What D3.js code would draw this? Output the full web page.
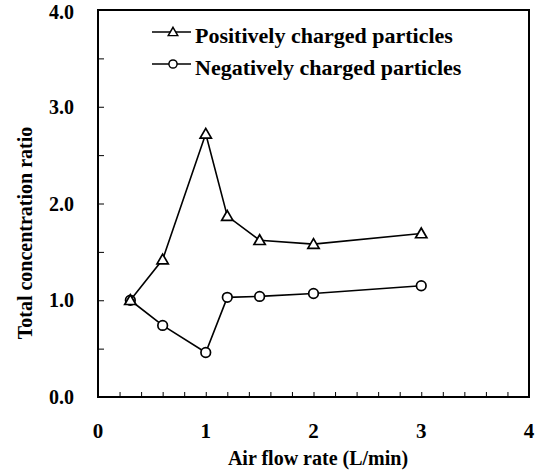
<html>
<head>
<script src="https://cdn.jsdelivr.net/npm/d3@7"></script>
<style>
  body { margin: 0; background: white; }
  text { font-family: "Liberation Serif", "Times New Roman", serif; font-weight: bold; fill: #000; }
</style>
</head>
<body>
<svg id="chart" width="536" height="472"></svg>
<script>
    let flowRate = [0.3, 0.6, 1.0, 1.2, 1.5, 2.0, 3.0]
    let positive = [1.0, 1.42, 2.72, 1.87, 1.62, 1.58, 1.69]
    let negative = [1.0, 0.74, 0.46, 1.03, 1.04, 1.07, 1.15]
    let xTickLabels = [0, 1, 2, 3, 4]
    let yTickLabels = [0, 1, 2, 3, 4]
    let seriesNames = ["Positively charged particles", "Negatively charged particles"]

    let svg = d3.select("#chart")
    let plotLeft = 98, plotRight = 529, plotTop = 10, plotBottom = 397

    let x = d3.scaleLinear().domain([0, 4]).range([plotLeft, plotRight])
    let y = d3.scaleLinear().domain([0, 4]).range([plotBottom, plotTop])

    // inward ticks
    let xAxis = d3.axisBottom(x).tickValues(d3.range(0, 4.01, 0.2)).tickSize(-5).tickFormat("")
    let yAxis = d3.axisLeft(y).tickValues(d3.range(0, 4.01, 0.5)).tickSize(-6).tickFormat("")

    svg.append("g").attr("transform", `translate(0,${plotBottom})`).call(xAxis)
        .call(g => g.select(".domain").remove())
        .selectAll("line").attr("stroke", "#000").attr("stroke-width", 1)
    svg.append("g").attr("transform", `translate(${plotLeft},0)`).call(yAxis)
        .call(g => g.select(".domain").remove())
        .selectAll("line").attr("stroke", "#000").attr("stroke-width", 1)

    svg.append("rect")
        .attr("x", plotLeft).attr("y", plotTop)
        .attr("width", plotRight - plotLeft).attr("height", plotBottom - plotTop)
        .attr("fill", "none").attr("stroke", "#000").attr("stroke-width", 2)

    svg.selectAll(".xlab").data(xTickLabels).enter().append("text")
        .attr("x", d => x(d)).attr("y", 438)
        .attr("text-anchor", "middle").attr("font-size", 21)
        .text(d => d)

    svg.selectAll(".ylab").data(yTickLabels).enter().append("text")
        .attr("x", 74).attr("y", d => Math.max(y(d) + 7, 19))
        .attr("text-anchor", "end").attr("font-size", 20)
        .text(d => d.toFixed(1))

    svg.append("text").attr("x", 318).attr("y", 465)
        .attr("text-anchor", "middle").attr("font-size", 20)
        .text("Air flow rate (L/min)")

    svg.append("text").attr("transform", "translate(32,233) rotate(-90)")
        .attr("text-anchor", "middle").attr("font-size", 20)
        .text("Total concentration ratio")

    let line = d3.line().x(d => x(d[0])).y(d => y(d[1]))
    let posData = d3.zip(flowRate, positive)
    let negData = d3.zip(flowRate, negative)

    let tri = d3.symbol().type(d3.symbolTriangle).size(55)

    function drawSeries(data, marker) {
        svg.append("path").datum(data).attr("d", line)
            .attr("fill", "none").attr("stroke", "#000").attr("stroke-width", 1.6)
        let g = svg.selectAll(null).data(data).enter().append("g")
            .attr("transform", d => `translate(${x(d[0])},${y(d[1])})`)
        marker(g)
    }

    let drawTri = g => g.append("path").attr("d", tri).attr("transform", "translate(0,1)")
        .attr("fill", "white").attr("stroke", "#000").attr("stroke-width", 1.7)
    let drawCirc = g => g.append("circle").attr("r", 4.8)
        .attr("fill", "white").attr("stroke", "#000").attr("stroke-width", 1.7)

    drawSeries(negData, drawCirc)
    drawSeries(posData, drawTri)

    // legend
    let legend = svg.append("g")
    let legendRows = [{ name: seriesNames[0], y: 32, marker: drawTri }, { name: seriesNames[1], y: 64, marker: drawCirc }]
    legendRows.forEach(r => {
        legend.append("line").attr("x1", 152).attr("x2", 191).attr("y1", r.y).attr("y2", r.y)
            .attr("stroke", "#000").attr("stroke-width", 1.6)
        let g = legend.append("g").attr("transform", `translate(173,${r.y}) scale(0.85)`)
        r.marker(g)
        legend.append("text").attr("x", 195).attr("y", r.y + 11).attr("font-size", 22)
            .text(r.name)
    })
</script>
</body>
</html>
